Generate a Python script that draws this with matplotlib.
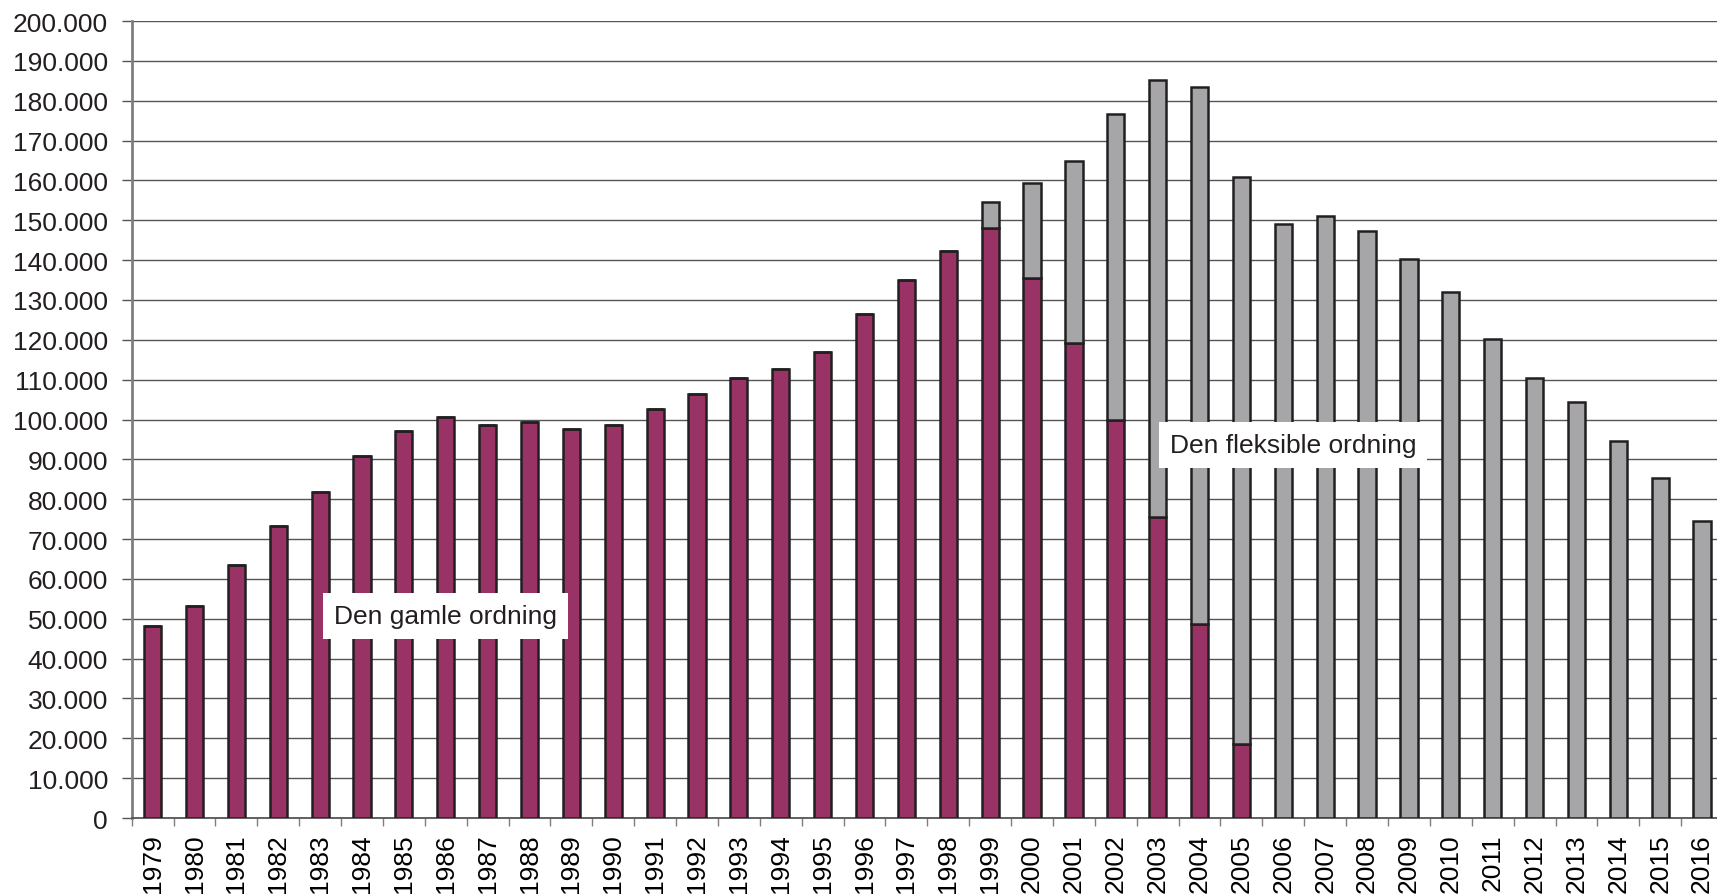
import matplotlib
matplotlib.use('Agg')
import matplotlib.pyplot as plt
import numpy as np
from matplotlib.ticker import FuncFormatter, FixedLocator

plt.rcParams['font.family'] = ['Liberation Sans', 'DejaVu Sans']

years = list(range(1979, 2017))
# den gamle ordning (purple), thousands
gamle = [48.1, 53.3, 63.5, 73.3, 81.8, 90.9, 97.0, 100.7, 98.6, 99.4,
         97.7, 98.6, 102.6, 106.3, 110.3, 112.8, 116.9, 126.6, 135.1, 142.2,
         148.0, 135.4, 119.2, 99.8, 75.6, 48.7, 18.6,
         0, 0, 0, 0, 0, 0, 0, 0, 0, 0, 0]
# den fleksible ordning (gray), thousands
fleksible = [0, 0, 0, 0, 0, 0, 0, 0, 0, 0,
             0, 0, 0, 0, 0, 0, 0, 0, 0, 0,
             6.5, 23.9, 45.6, 76.8, 109.7, 134.8, 142.3,
             149.1, 151.0, 147.2, 140.2, 131.9, 120.2, 110.5, 104.3, 94.6, 85.2, 74.5]

gamle = np.array(gamle) * 1000
fleksible = np.array(fleksible) * 1000

purple = '#993366'
gray = '#a6a6a9'
edge = '#231f20'
gridc = '#555555'
myfontsize = 19

fig = plt.figure(figsize=(17.17, 8.95), dpi=100)
ax = fig.add_axes([0.0767, 0.0849, 0.9268, 0.8905])

x = np.arange(len(years))
width = 0.41
ax.bar(x, gamle, width=width, color=purple, edgecolor=edge, linewidth=1.8, zorder=3)
ax.bar(x, fleksible, width=width, bottom=gamle, color=gray, edgecolor=edge, linewidth=1.8, zorder=3)

ax.set_xlim(-0.5, len(years) - 0.5)
ax.set_ylim(0, 200000)
ax.set_yticks(np.arange(0, 200001, 10000))
ax.yaxis.set_major_formatter(FuncFormatter(lambda v, p: '{:,}'.format(int(v)).replace(',', '.')))
ax.yaxis.grid(True, color=gridc, linewidth=1.0, zorder=0)
ax.set_axisbelow(True)

# ticks between categories, labels at centers
ax.xaxis.set_major_locator(FixedLocator(np.arange(-0.5, len(years), 1.0)))
ax.xaxis.set_minor_locator(FixedLocator(x))
ax.set_xticklabels([])
ax.set_xticklabels([str(y) for y in years], minor=True, rotation=90, fontsize=myfontsize)
ax.tick_params(axis='x', which='major', length=6, width=1, color='#7f7f7f', direction='out')
ax.tick_params(axis='x', which='minor', length=0, pad=11)
ax.tick_params(axis='y', length=7, width=1.0, color=gridc, labelsize=myfontsize, pad=10, labelcolor='#231f20')
ax.tick_params(axis='x', labelcolor='#231f20')

for s in ['top', 'right']:
    ax.spines[s].set_visible(False)
ax.spines['left'].set_color('#7f7f7f')
ax.spines['left'].set_linewidth(2)
ax.spines['bottom'].set_color('#555555')
ax.spines['bottom'].set_linewidth(1.3)

box = dict(facecolor='white', edgecolor='none', pad=8)
ax.text(7.0, 50700, 'Den gamle ordning', ha='center', va='center', fontsize=myfontsize,
        color='#231f20', bbox=box, zorder=5)
ax.text(27.23, 93600, 'Den fleksible ordning', ha='center', va='center', fontsize=myfontsize,
        color='#231f20', bbox=box, zorder=5)

plt.savefig('out.png', dpi=100)
